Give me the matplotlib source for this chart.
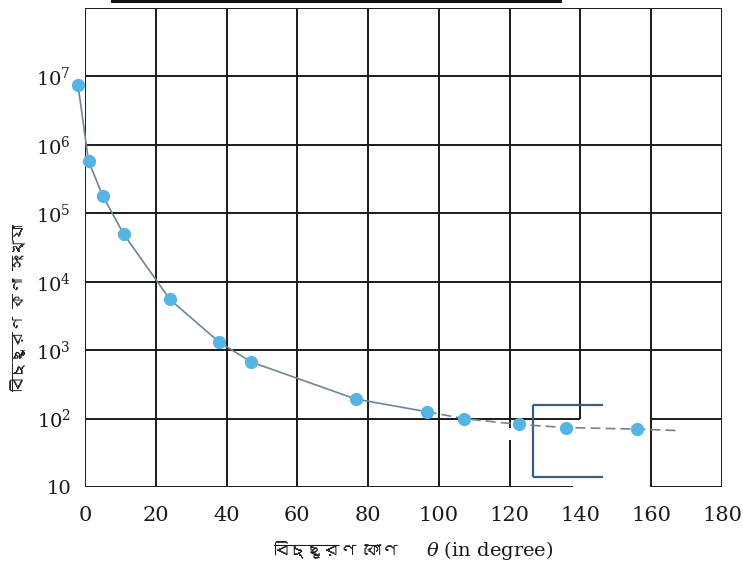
import matplotlib
matplotlib.use("Agg")
import matplotlib.pyplot as plt
from matplotlib import font_manager
from matplotlib.lines import Line2D

# ---------------- data ----------------
theta = [-2, 1, 5, 11, 24, 38, 47, 76.5, 96.5, 107, 122.5, 136, 156]
counts = [7.6e6, 5.8e5, 1.8e5, 4.9e4, 5.5e3, 1.3e3, 670, 193, 126, 100, 82, 74, 70]
tail_theta = [156, 167]
tail_counts = [70, 67]
x_ticks = [0, 20, 40, 60, 80, 100, 120, 140, 160, 180]
y_ticks = [10, 1e2, 1e3, 1e4, 1e5, 1e6, 1e7]
y_ticklabels = ["10", r"$10^2$", r"$10^3$", r"$10^4$", r"$10^5$", r"$10^6$", r"$10^7$"]
xlabel_bn = "বিচ্ছুরণ কোণ"
xlabel_en = r"$\theta$ (in degree)"
ylabel_bn = "বিচ্ছুরণ কণা সংখ্যা"

# ---------------- find a Bengali-capable font ----------------
bn_family = None
try:
    from fontTools.ttLib import TTFont
    for fe in font_manager.fontManager.ttflist:
        try:
            f = TTFont(fe.fname, fontNumber=0, lazy=True)
            cmap = f.getBestCmap()
            if cmap and 0x09AC in cmap and 0x09A3 in cmap:
                bn_family = fe.name
                break
        except Exception:
            continue
except Exception:
    pass
bn_fonts = ([bn_family] if bn_family else []) + ["Noto Sans", "DejaVu Sans"]

plt.rcParams["mathtext.fontset"] = "dejavuserif"
plt.rcParams["font.family"] = ["DejaVu Serif"]

fig = plt.figure(figsize=(7.43, 5.75), dpi=100)
ax = fig.add_axes([85 / 743, 1 - 487 / 575, (722 - 85) / 743, (487 - 8) / 575])
ax.set_yscale("log")
ax.set_xlim(0, 180)
ax.set_ylim(10, 1e8)

for s in ax.spines.values():
    s.set_visible(False)

gk = dict(color="#1a1a1a", lw=1.4, solid_capstyle="butt", zorder=1)
# vertical grid lines
for xv in x_ticks:
    if xv == 140:
        ax.plot([xv, xv], [1e2, 1e8], **gk)
    elif xv == 120:
        ax.plot([xv, xv], [10, 10 ** 1.68], **gk)
        ax.plot([xv, xv], [10 ** 1.86, 1e8], **gk)
    else:
        ax.plot([xv, xv], [10, 1e8], **gk)
# horizontal grid lines
for yv in [10, 1e2, 1e3, 1e4, 1e5, 1e6, 1e7, 1e8]:
    if yv == 10:
        ax.plot([0, 138], [yv, yv], **gk)
        ax.plot([160, 180], [yv, yv], **gk)
    elif yv == 1e2:
        ax.plot([0, 140], [yv, yv], **gk)
        ax.plot([160, 180], [yv, yv], **gk)
    else:
        ax.plot([0, 180], [yv, yv], **gk)

# bracket artifact
bk = dict(color="#3f5f78", lw=1.6, zorder=1, solid_capstyle="butt")
ax.plot([126.5, 126.5], [10 ** 1.15, 10 ** 2.2], **bk)
ax.plot([126.5, 146.5], [10 ** 2.2, 10 ** 2.2], **bk)
ax.plot([126.5, 146.5], [10 ** 1.15, 10 ** 1.15], **bk)

# curve + points
ax.plot(theta[:9], counts[:9], color="#6f8596", lw=1.2, zorder=2, clip_on=False)
ax.plot(theta[8:] + tail_theta[1:], counts[8:] + tail_counts[1:], color="#6f8596",
        lw=1.2, ls=(0, (6, 3)), zorder=2, clip_on=False)
ax.plot(theta, counts, ls="none", marker="o", ms=8.5, color="#56b4e4",
        mec="#56b4e4", zorder=3, clip_on=False)

ax.set_xticks(x_ticks)
ax.set_xticklabels([str(v) for v in x_ticks], fontsize=15, color="#1a1a1a")
ax.set_yticks(y_ticks)
ax.set_yticklabels(y_ticklabels, fontsize=14, color="#1a1a1a")
ax.minorticks_off()
ax.tick_params(axis="x", length=0, pad=14)
ax.tick_params(axis="y", length=0, pad=10)

fig.text(335 / 743, 1 - 550 / 575, xlabel_bn, family=bn_fonts, fontsize=12,
         ha="center", va="center", color="#1a1a1a")
fig.text(490 / 743, 1 - 550 / 575, xlabel_en, fontsize=14,
         ha="center", va="center", color="#1a1a1a")
fig.text(18 / 743, 1 - 308 / 575, ylabel_bn, family=bn_fonts, fontsize=11,
         rotation=90, ha="center", va="center", color="#1a1a1a")

# top caption underline artifact
fig.add_artist(Line2D([112 / 743, 560 / 743], [0.998, 0.998], color="#111111", lw=2.2,
                      transform=fig.transFigure))

fig.savefig("out.png", dpi=100, facecolor="white")
